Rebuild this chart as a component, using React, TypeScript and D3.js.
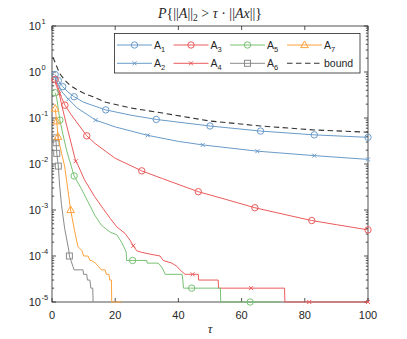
import React, { useEffect, useRef } from "react";
import * as d3 from "d3";

// tau grids and tail probabilities
const tauA1 = [1, 2, 3.4, 5, 7, 10, 17, 25, 33, 50, 66, 83, 100];
const pA1 = [0.88, 0.65, 0.48, 0.37, 0.29, 0.22, 0.15, 0.115, 0.093, 0.067, 0.052, 0.043, 0.038];
const markA1 = [0, 1, 2, 4, 6, 8, 9, 10, 11, 12];

const tauA2 = [1, 2, 3, 5.2, 8, 13.8, 20, 30.3, 40, 47.7, 65, 83, 100];
const pA2 = [0.78, 0.52, 0.38, 0.255, 0.165, 0.09, 0.064, 0.042, 0.031, 0.026, 0.019, 0.0152, 0.0126];
const markA2 = [3, 5, 7, 9, 10, 11, 12];

const tauA3 = [1, 1.3, 2, 3, 4.1, 6, 7.6, 11, 13.6, 20, 28.4, 35, 46.3, 55, 64.2, 75, 82.2, 90, 100];
const pA3 = [0.69, 0.59, 0.45, 0.28, 0.19, 0.12, 0.085, 0.041, 0.028, 0.0133, 0.0071, 0.0048, 0.0025, 0.0017, 0.00112, 0.00076, 0.00059, 0.00048, 0.00037];
const markA3 = [0, 4, 7, 10, 12, 14, 16, 18];

const tauA4 = [1, 1.5, 2.3, 3, 4.6, 7.5, 8.2, 10.3, 13.5, 16.1, 18.4, 20.5, 23.1, 24.7, 25.7, 26.8, 28.4, 31, 34.2, 35.2, 37.9, 39.5, 40.5, 42.1, 44.5, 46.3, 46.4, 52.6, 52.7, 63, 73.6, 73.7, 81.4, 100];
const pA4 = [0.6, 0.48, 0.34, 0.2, 0.07, 0.0115, 0.0095, 0.0045, 0.00195, 0.00109, 0.00066, 0.00043, 0.00031, 0.00022, 0.000167, 0.00013, 0.00012, 0.00011, 0.0001, 0.00008, 0.00007, 0.00006, 0.00005, 0.00004, 0.00004, 0.00004, 0.00003, 0.00003, 0.00002, 0.00002, 0.00002, 0.00001, 0.00001, 0.00001];
const markA4 = [2, 5, 14, 24, 29, 32, 33];

const tauA5 = [1, 1.5, 2.5, 3.5, 4.6, 7, 9.3, 11.4, 13.5, 15.6, 18.4, 20.5, 22, 23.1, 23.5, 23.6, 25.5, 30, 30.1, 33.6, 34.5, 35.2, 35.8, 41.2, 41.4, 41.6, 44.2, 53.3, 53.4, 62.7, 72];
const pA5 = [0.355, 0.27, 0.09, 0.043, 0.02, 0.0055, 0.0029, 0.0015, 0.00078, 0.00047, 0.00033, 0.00029, 0.0002, 0.00014, 0.00012, 0.00008, 0.00008, 0.00008, 0.00007, 0.00007, 0.00006, 0.00005, 0.00004, 0.00004, 0.00003, 0.00002, 0.00002, 0.00002, 0.00001, 0.00001, 0.00001];
const markA5 = [0, 2, 5, 16, 26, 29];

const tauA6 = [1, 1.3, 1.5, 2, 2.4, 3, 4, 5.3, 5.5, 6, 6.6, 7, 9.8, 10, 11, 11.2, 12, 12.3, 12.9, 13];
const pA6 = [0.037, 0.029, 0.017, 0.009, 0.0035, 0.0013, 0.0004, 0.000135, 0.0001, 0.00008, 0.00006, 0.00005, 0.00005, 0.00004, 0.00004, 0.00003, 0.00003, 0.00002, 0.00002, 0.00001];
const markA6 = [0, 1, 2, 3, 8];

const tauA7 = [1, 1.5, 1.9, 2.8, 4, 5.9, 7, 8.2, 9.5, 10, 11.4, 12, 12.5, 13.8, 14.6, 15.6, 16.8, 17.2, 18, 18.3, 18.8, 18.9, 22];
const pA7 = [0.16, 0.085, 0.039, 0.02, 0.009, 0.001, 0.0004, 0.00016, 0.00013, 0.0001, 0.0001, 0.00008, 0.00008, 0.00007, 0.00006, 0.00005, 0.00005, 0.00004, 0.00004, 0.00003, 0.00003, 0.00001, 0.00001];
const markA7 = [0, 1, 2, 5];

const tauBound = [0.3, 1, 2.4, 4, 5.6, 7.7, 10.3, 13, 17, 25, 35, 50, 66, 83, 100];
const pBound = [2.1, 1.6, 0.93, 0.67, 0.52, 0.42, 0.34, 0.29, 0.22, 0.165, 0.128, 0.086, 0.067, 0.055, 0.049];

const xTicks = [0, 20, 40, 60, 80, 100];
const yExponents = [-5, -4, -3, -2, -1, 0, 1];

const BLUE = "#6a9bc9";
const RED = "#eb5b5c";
const GREEN = "#78c273";
const ORANGE = "#ffa23c";
const GRAY = "#8a8a8a";
const INK = "#262626";

const series = [
  { name: "1", tau: tauA1, p: pA1, marks: markA1, color: BLUE, marker: "circle" },
  { name: "2", tau: tauA2, p: pA2, marks: markA2, color: BLUE, marker: "x" },
  { name: "3", tau: tauA3, p: pA3, marks: markA3, color: RED, marker: "circle" },
  { name: "4", tau: tauA4, p: pA4, marks: markA4, color: RED, marker: "x" },
  { name: "5", tau: tauA5, p: pA5, marks: markA5, color: GREEN, marker: "circle" },
  { name: "6", tau: tauA6, p: pA6, marks: markA6, color: GRAY, marker: "square" },
  { name: "7", tau: tauA7, p: pA7, marks: markA7, color: ORANGE, marker: "triangle" },
];

function drawMarker(g, type, cx, cy, color) {
  if (type === "circle") {
    g.append("circle").attr("cx", cx).attr("cy", cy).attr("r", 3.2)
      .attr("fill", "none").attr("stroke", color).attr("stroke-width", 1);
  } else if (type === "x") {
    const s = 2;
    g.append("path")
      .attr("d", `M${cx - s},${cy - s}L${cx + s},${cy + s}M${cx - s},${cy + s}L${cx + s},${cy - s}`)
      .attr("stroke", color).attr("stroke-width", 1).attr("fill", "none");
  } else if (type === "square") {
    g.append("rect").attr("x", cx - 3).attr("y", cy - 3).attr("width", 6).attr("height", 6)
      .attr("fill", "none").attr("stroke", color).attr("stroke-width", 1);
  } else if (type === "triangle") {
    g.append("path")
      .attr("d", `M${cx},${cy - 4}L${cx + 3.8},${cy + 2.6}L${cx - 3.8},${cy + 2.6}Z`)
      .attr("fill", "none").attr("stroke", color).attr("stroke-width", 1);
  }
}

const TailChart = () => {
  const ref = useRef(null);

  useEffect(() => {
    const svg = d3.select(ref.current);
    svg.selectAll("*").remove();

    const left = 52, right = 368, top = 26, bottom = 302;
    const x = d3.scaleLinear().domain([0, 100]).range([left, right]);
    const y = d3.scaleLog().domain([1e-5, 10]).range([bottom, top]);
    const font = "'Liberation Sans', Arial, sans-serif";
    const serif = "'Liberation Serif', 'Times New Roman', serif";

    svg.append("rect").attr("width", 407).attr("height", 339).attr("fill", "#fff");

    // frame and ticks
    const axes = svg.append("g").attr("stroke", INK).attr("stroke-width", 0.8);
    axes.append("rect").attr("x", left).attr("y", top)
      .attr("width", right - left).attr("height", bottom - top).attr("fill", "none");
    xTicks.forEach((t) => {
      axes.append("line").attr("x1", x(t)).attr("x2", x(t)).attr("y1", bottom).attr("y2", bottom - 4);
      axes.append("line").attr("x1", x(t)).attr("x2", x(t)).attr("y1", top).attr("y2", top + 4);
    });
    yExponents.forEach((e) => {
      const v = Math.pow(10, e);
      axes.append("line").attr("x1", left).attr("x2", left + 4).attr("y1", y(v)).attr("y2", y(v));
      axes.append("line").attr("x1", right).attr("x2", right - 4).attr("y1", y(v)).attr("y2", y(v));
      if (e < 1) {
        for (let m = 2; m <= 9; m++) {
          const yy = y(m * v);
          axes.append("line").attr("x1", left).attr("x2", left + 2.2).attr("y1", yy).attr("y2", yy);
          axes.append("line").attr("x1", right).attr("x2", right - 2.2).attr("y1", yy).attr("y2", yy);
        }
      }
    });

    // tick labels
    const labels = svg.append("g").attr("font-family", font).attr("fill", INK);
    xTicks.forEach((t) => {
      labels.append("text").attr("x", x(t)).attr("y", 319).attr("text-anchor", "middle")
        .attr("font-size", 11).text(t);
    });
    yExponents.forEach((e) => {
      const yy = y(Math.pow(10, e));
      labels.append("text").attr("x", 41).attr("y", yy + 4).attr("text-anchor", "end")
        .attr("font-size", 11).text("10");
      labels.append("text").attr("x", 41.6).attr("y", yy - 2).attr("font-size", 7.5).text(e);
    });

    // title and axis label
    const title = svg.append("text").attr("x", 210).attr("y", 18).attr("text-anchor", "middle")
      .attr("font-family", serif).attr("font-size", 14).attr("fill", INK);
    title.append("tspan").attr("font-style", "italic").text("P");
    title.append("tspan").text("{||");
    title.append("tspan").attr("font-style", "italic").text("A");
    title.append("tspan").text("||");
    title.append("tspan").attr("font-size", 9.5).attr("dy", 3).text("2");
    title.append("tspan").attr("dy", -3).text(" > ");
    title.append("tspan").attr("font-style", "italic").text("τ");
    title.append("tspan").text(" · ||");
    title.append("tspan").attr("font-style", "italic").text("Ax");
    title.append("tspan").text("||}");

    svg.append("text").attr("x", 210).attr("y", 333).attr("text-anchor", "middle")
      .attr("font-family", serif).attr("font-style", "italic").attr("font-size", 13)
      .attr("fill", INK).text("τ");

    // curves
    const line = d3.line().x((d) => x(d[0])).y((d) => y(d[1]));
    const plot = svg.append("g");
    series.forEach((s) => {
      const pts = s.tau.map((t, i) => [t, s.p[i]]);
      plot.append("path").attr("d", line(pts)).attr("fill", "none")
        .attr("stroke", s.color).attr("stroke-width", 1);
      s.marks.forEach((i) => drawMarker(plot, s.marker, x(pts[i][0]), y(pts[i][1]), s.color));
    });
    plot.append("path").attr("d", line(tauBound.map((t, i) => [t, pBound[i]])))
      .attr("fill", "none").attr("stroke", "#333").attr("stroke-width", 1.1)
      .attr("stroke-dasharray", "5.5,3.5");

    // legend
    const lg = svg.append("g").attr("font-family", font).attr("fill", INK);
    lg.append("rect").attr("x", 114.5).attr("y", 33.5).attr("width", 245.5).attr("height", 39.5)
      .attr("fill", "#fff").attr("stroke", INK).attr("stroke-width", 0.8);
    const colX = [117, 173.5, 230, 287];
    const rowY = [45, 63.3];
    const entries = [
      [0, 0, series[0]], [0, 1, series[1]], [1, 0, series[2]], [1, 1, series[3]],
      [2, 0, series[4]], [2, 1, series[5]], [3, 0, series[6]],
    ];
    entries.forEach(([c, r, s]) => {
      const x0 = colX[c], yy = rowY[r];
      lg.append("line").attr("x1", x0).attr("x2", x0 + 35).attr("y1", yy).attr("y2", yy)
        .attr("stroke", s.color).attr("stroke-width", 1);
      drawMarker(lg, s.marker, x0 + 17.5, yy, s.color);
      const t = lg.append("text").attr("x", x0 + 37).attr("y", yy + 4).attr("font-size", 10.5);
      t.append("tspan").text("A");
      t.append("tspan").attr("font-size", 7.5).attr("dy", 3).text(s.name);
    });
    lg.append("line").attr("x1", colX[3]).attr("x2", colX[3] + 35)
      .attr("y1", rowY[1]).attr("y2", rowY[1]).attr("stroke", "#333")
      .attr("stroke-width", 1.1).attr("stroke-dasharray", "5.5,3.5");
    lg.append("text").attr("x", colX[3] + 37).attr("y", rowY[1] + 4).attr("font-size", 10.5)
      .text("bound");
  }, []);

  return (
    <svg ref={ref} width={407} height={339}
      style={{ position: "absolute", left: 0, top: 0, display: "block" }} />
  );
};

export default function App() {
  return <TailChart />;
}
